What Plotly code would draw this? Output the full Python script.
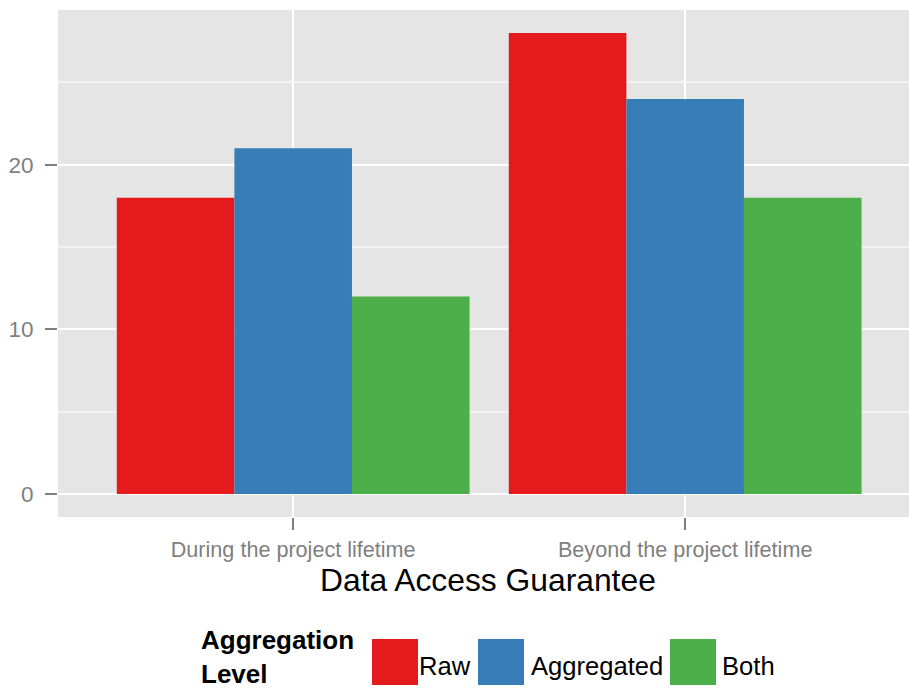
import plotly.graph_objects as go

# ---- data ----
categories = ["During the project lifetime", "Beyond the project lifetime"]
series_names = ["Raw", "Aggregated", "Both"]
raw_values = [18, 28]
aggregated_values = [21, 24]
both_values = [12, 18]
y_tick_values = [0, 10, 20]
y_tick_labels = ["0", "10", "20"]
legend_title = "Aggregation<br>Level"

colors = ["#E41A1C", "#377EB8", "#4DAF4A"]
series_values = [raw_values, aggregated_values, both_values]

W, H = 909, 692
L, R, T, B = 58, 0, 10, 175
PW, PH = W - L - R, H - T - B
FONT = "Liberation Sans, Arial, sans-serif"


def px(x):
    return (x - L) / PW


def py(y):
    return (H - B - y) / PH


fig = go.Figure()
for name, vals, col in zip(series_names, series_values, colors):
    fig.add_trace(go.Bar(x=categories, y=vals, name=name,
                         marker=dict(color=col, line=dict(width=0)),
                         showlegend=False))

fig.update_layout(
    width=W, height=H,
    margin=dict(l=L, r=R, t=T, b=B, pad=0),
    paper_bgcolor="white", plot_bgcolor="#E5E5E5",
    barmode="group", bargap=0.1, bargroupgap=0,
    font=dict(family=FONT),
)

fig.update_xaxes(
    type="category", range=[-0.6, 1.571],
    showgrid=True, gridcolor="white", gridwidth=2,
    ticks="outside", ticklen=12, tickwidth=2, tickcolor="#7F7F7F",
    tickfont=dict(size=21.6, color="#7F7F7F", family=FONT),
    showline=False, zeroline=False, ticklabelstandoff=1,
)
fig.update_yaxes(
    range=[-1.4, 29.4], tickvals=y_tick_values, ticktext=y_tick_labels,
    showgrid=True, gridcolor="white", gridwidth=2,
    minor=dict(dtick=5, tick0=0, showgrid=True, gridcolor="#F2F2F2", gridwidth=2, ticks=""),
    ticks="outside", ticklen=12, tickwidth=2, tickcolor="#7F7F7F",
    tickfont=dict(size=22.5, color="#7F7F7F", family=FONT),
    showline=False, zeroline=False, ticklabelstandoff=7,
)

# x-axis title
fig.add_annotation(text="Data Access Guarantee", xref="paper", yref="paper",
                   x=px(487.5), y=py(580), xanchor="center", yanchor="middle",
                   showarrow=False, font=dict(size=31.8, color="black", family=FONT))

# manual legend
fig.add_annotation(text="<b>" + legend_title + "</b>", xref="paper", yref="paper",
                   x=px(199), y=py(691), xanchor="left", yanchor="bottom", align="left",
                   showarrow=False, font=dict(size=26, color="black", family=FONT))
swatch_left = [372, 478, 670]
label_left = [417, 528.5, 720]
for name, col, sx, lx in zip(series_names, colors, swatch_left, label_left):
    fig.add_shape(type="rect", xref="paper", yref="paper",
                  x0=px(sx), x1=px(sx + 46), y0=py(685), y1=py(639),
                  fillcolor=col, line=dict(width=0))
    fig.add_annotation(text=name, xref="paper", yref="paper",
                       x=px(lx), y=py(665.5), xanchor="left", yanchor="middle",
                       showarrow=False, font=dict(size=25.6, color="black", family=FONT))

fig.write_html("out.html", config={"displayModeBar": False},
               post_script="document.body.style.margin='0';document.body.style.overflow='hidden';")
